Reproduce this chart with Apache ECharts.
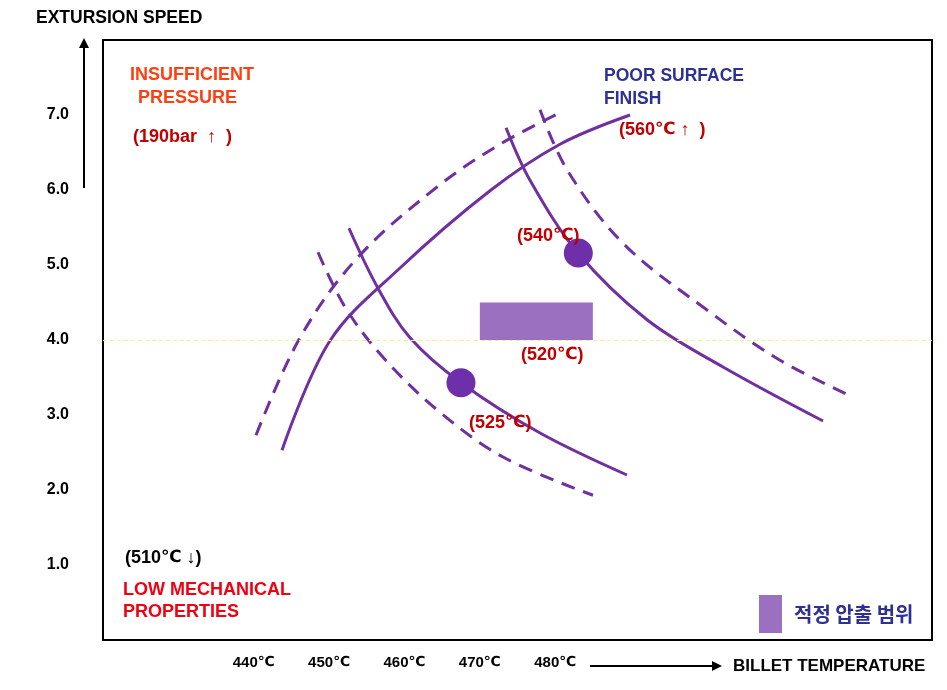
<!DOCTYPE html>
<html>
<head>
<meta charset="utf-8">
<script src="https://cdn.jsdelivr.net/npm/echarts@6/dist/echarts.min.js"></script>
<style>html,body{margin:0;padding:0;background:#fff}#c{width:947px;height:690px}</style>
</head>
<body>
<div id="c"></div>
<script>
// ---- data ----
const xTickLabels = [440, 450, 460, 470, 480];
const yTickLabels = [1, 2, 3, 4, 5, 6, 7];
const solidRising = [[443.75,2.53],[450.12,3.99],[459.41,4.96],[471.35,5.99],[480.64,6.61],[489.93,7.00]];
const dashedRising = [[440.30,2.73],[446.14,4.03],[453.71,5.09],[464.32,6.04],[472.68,6.61],[480.64,7.03]];
const solidFallingLeft = [[452.64,5.49],[456.49,4.69],[460.74,4.03],[467.50,3.43],[477.99,2.76],[489.53,2.20]];
const dashedFallingLeft = [[448.53,5.17],[452.11,4.44],[457.16,3.77],[464.32,3.07],[473.08,2.44],[485.02,1.93]];
const solidFallingRight = [[473.48,6.83],[476.66,6.13],[483.03,5.16],[492.19,4.27],[502.27,3.64],[515.54,2.92]];
const dashedFallingRight = [[477.99,7.07],[481.57,6.27],[489.00,5.29],[500.15,4.40],[509.84,3.73],[519.52,3.24]];
const dots = [[467.50,3.43],[483.07,5.16]];
const rangeBox = [[470, 4.0, 485, 4.5]];
const refLineY = 4.0;
const legendName = '적정 압출 범위';

const PURPLE = '#7030A0';
const chart = echarts.init(document.getElementById('c'));
const lineBase = (data, dashed) => ({
  type: 'line', data, smooth: 0.35, symbol: 'none', silent: true,
  lineStyle: { color: PURPLE, width: 3, type: dashed ? [14, 9] : 'solid' },
  z: 3
});
const redText = '#C00000';
const LAT = '"Liberation Sans", "DejaVu Sans", sans-serif';
const DEG = '"DejaVu Sans", sans-serif';
const CJK = '"Noto Sans CJK KR", sans-serif';
const T = (text, x, y, fill, size) => {
  size = size || 18;
  return {
    type: 'text', x, y, z: 100,
    style: {
      text, fill, fontFamily: LAT, fontWeight: 'bold', fontSize: size, verticalAlign: 'middle',
      rich: { c: { fontFamily: DEG, fontWeight: 'bold', fontSize: size - 1, fill } }
    }
  };
};

chart.setOption({
  animation: false,
  grid: { left: 103, right: 15, top: 40, bottom: 50, show: true, borderColor: '#000', borderWidth: 2, backgroundColor: 'transparent' },
  xAxis: {
    type: 'value', min: 420, max: 530, interval: 10,
    axisLine: { show: false }, axisTick: { show: false }, splitLine: { show: false },
    axisLabel: {
      margin: 15, color: '#000', fontWeight: 'bold', fontSize: 15, fontFamily: LAT,
      rich: { c: { fontFamily: DEG, fontWeight: 'bold', fontSize: 14, color: '#000' } },
      formatter: v => xTickLabels.includes(v) ? v + '{c|℃}' : ''
    }
  },
  yAxis: {
    type: 'value', min: 0, max: 8, interval: 1,
    axisLine: { show: false }, axisTick: { show: false }, splitLine: { show: false },
    axisLabel: {
      margin: 34, color: '#000', fontWeight: 'bold', fontSize: 16, fontFamily: LAT,
      formatter: v => yTickLabels.includes(v) ? v.toFixed(1) : ''
    }
  },
  legend: {
    data: [legendName], left: 759, top: 595, padding: 0, icon: 'rect', itemWidth: 23, itemHeight: 38,
    selectedMode: false,
    textStyle: { color: '#2E3192', fontWeight: 'bold', fontSize: 20, fontFamily: CJK, padding: [0, 0, 0, 7] }
  },
  series: [
    {
      name: legendName, type: 'custom', data: rangeBox, silent: true, z: 2,
      itemStyle: { color: '#9B70C0' },
      encode: { x: [0, 2], y: [1, 3] },
      renderItem: (params, api) => {
        const p1 = api.coord([api.value(0), api.value(3)]);
        const p2 = api.coord([api.value(2), api.value(1)]);
        return { type: 'rect', shape: { x: p1[0], y: p1[1], width: p2[0] - p1[0], height: p2[1] - p1[1] }, style: { fill: '#9B70C0' } };
      }
    },
    Object.assign(lineBase(solidRising, false), {
      markLine: { silent: true, symbol: 'none', label: { show: false },
        lineStyle: { color: '#F3EE8A', width: 1, type: [4, 3] },
        data: [{ yAxis: refLineY }] }
    }),
    lineBase(dashedRising, true),
    lineBase(solidFallingLeft, false),
    lineBase(dashedFallingLeft, true),
    lineBase(solidFallingRight, false),
    lineBase(dashedFallingRight, true),
    { type: 'scatter', data: dots, symbolSize: 29, silent: true, z: 4, itemStyle: { color: '#6E30AA', opacity: 1 } }
  ],
  graphic: [
    T('EXTURSION SPEED', 36, 18, '#000', 17.5),
    T('BILLET TEMPERATURE', 733, 666, '#000', 17),
    { type: 'line', shape: { x1: 84, y1: 188, x2: 84, y2: 46 }, style: { stroke: '#000', lineWidth: 2 } },
    { type: 'polygon', shape: { points: [[84, 38], [79, 48], [89, 48]] }, style: { fill: '#000' } },
    { type: 'line', shape: { x1: 590, y1: 666, x2: 714, y2: 666 }, style: { stroke: '#000', lineWidth: 2 } },
    { type: 'polygon', shape: { points: [[722, 666], [712, 661], [712, 671]] }, style: { fill: '#000' } },
    T('INSUFFICIENT', 130, 75, '#FF3F10'),
    T(' PRESSURE', 133, 98, '#FF3F10'),
    T('(190bar  ↑  )', 133, 137, redText),
    T('POOR SURFACE', 604, 76, '#2E3192', 17.5),
    T('FINISH', 604, 99, '#2E3192', 17.5),
    T('(560{c|℃} ↑  )', 619, 130, redText),
    T('(540{c|℃})', 517, 236, redText),
    T('(520{c|℃})', 521, 355, redText),
    T('(525{c|℃})', 469, 423, redText),
    T('(510{c|℃} ↓)', 125, 558, '#000'),
    T('LOW MECHANICAL', 123, 590, '#F00010'),
    T('PROPERTIES', 123, 612, '#F00010')
  ]
});
</script>
</body>
</html>
